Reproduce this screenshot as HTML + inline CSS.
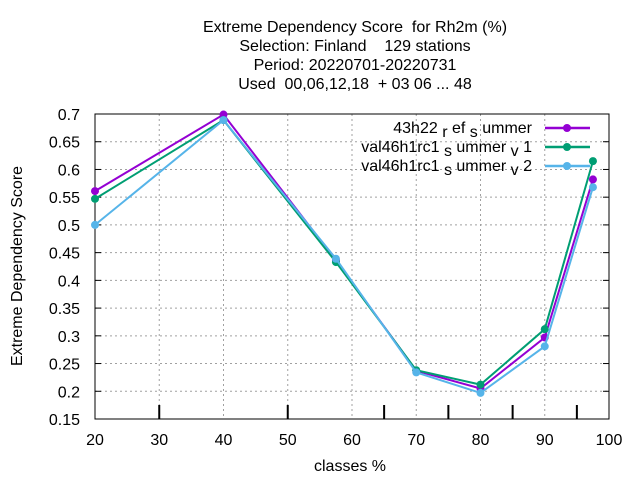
<!DOCTYPE html>
<html><head><meta charset="utf-8"><style>
body{margin:0;background:#fff}
svg{font-family:"Liberation Sans",sans-serif;font-size:16px}
</style></head><body>
<svg id="chart" width="640" height="480" viewBox="0 0 640 480" xmlns="http://www.w3.org/2000/svg">
<g text-anchor="middle" font-size="16">
<text x="355" y="32" xml:space="preserve">Extreme Dependency Score  for Rh2m (%)</text>
<text x="355" y="51" xml:space="preserve">Selection: Finland    129 stations</text>
<text x="355" y="70">Period: 20220701-20220731</text>
<text x="355" y="89" xml:space="preserve">Used  00,06,12,18  + 03 06 ... 48</text>
</g>
<g id="grid"></g>
<g id="axes"></g>
<g id="series"></g>
<g id="legend"></g>
<text transform="translate(22,266) rotate(-90)" text-anchor="middle">Extreme Dependency Score</text>
<text x="350" y="471" text-anchor="middle">classes %</text>
</svg>
<script>
const categories=[20,40,57.5,70,80,90,97.5];
const refSummer=[0.561,0.699,0.436,0.237,0.205,0.297,0.582];
const v1Summer=[0.547,0.689,0.433,0.238,0.212,0.312,0.615];
const v2Summer=[0.500,0.689,0.439,0.234,0.197,0.281,0.568];
const xTicks=[20,30,40,50,60,70,80,90,100];
const yTicks=[0.15,0.2,0.25,0.3,0.35,0.4,0.45,0.5,0.55,0.6,0.65,0.7];
const bottomTicks=[30,50,65,75,85,95];
const colors=["#9400d3","#009e73","#56b4e9"];
const L=95,R=609,T=114,B=419;
const xs=v=>L+(v-20)/80*(R-L);
const ys=v=>B-(v-0.15)/0.55*(B-T);
const NS="http://www.w3.org/2000/svg";
function mk(tag,attrs,parent){const e=document.createElementNS(NS,tag);for(const k in attrs)e.setAttribute(k,attrs[k]);parent.appendChild(e);return e;}
const grid=document.getElementById('grid'),axes=document.getElementById('axes'),ser=document.getElementById('series'),leg=document.getElementById('legend');
xTicks.forEach(t=>{const x=xs(t);
 if(t>20&&t<100){const g=mk('line',{x1:x,x2:x,y1:T,y2:B,stroke:'#a0a0a0','stroke-dasharray':'2,3','stroke-width':1},grid);}
 const tx=mk('text',{x:x,y:B+26,'text-anchor':'middle'},axes);tx.textContent=t;
 
 
});
yTicks.forEach(t=>{const y=ys(t);
 if(t>0.15&&t<0.7){const g=mk('line',{x1:L,x2:R,y1:y,y2:y,stroke:'#a0a0a0','stroke-dasharray':'2,3','stroke-width':1},grid);}
 mk('line',{x1:L,x2:L+6,y1:y,y2:y,stroke:'#000'},axes);
 mk('line',{x1:R-6,x2:R,y1:y,y2:y,stroke:'#000'},axes);
 const tx=mk('text',{x:L-15,y:y+6,'text-anchor':'end'},axes);tx.textContent=String(t);
 
 
});
bottomTicks.forEach(t=>{const m=mk('line',{x1:xs(t),x2:xs(t),y1:B,y2:B-14,stroke:'#000','stroke-width':2},axes);
 
 });
const fr=mk('rect',{x:L,y:T,width:R-L,height:B-T,fill:'none',stroke:'#000','stroke-width':1},axes);


[refSummer,v1Summer,v2Summer].forEach((vals,i)=>{
 const g=mk('g',{},ser);
 
 
 const pts=vals.map((v,j)=>xs(categories[j])+','+ys(v)).join(' ');
 const pl=mk('polyline',{points:pts,fill:'none',stroke:colors[i],'stroke-width':2},g);
 
 
 vals.forEach((v,j)=>{const c=mk('circle',{cx:xs(categories[j]),cy:ys(v),r:4,fill:colors[i]},g);
  
  });
});
const legendParts=[['43h22 ','r','ef','s','ummer'],['val46h1rc1 ','s','ummer','v','1'],['val46h1rc1 ','s','ummer','v','2']];
legendParts.forEach((p,i)=>{const y=128+i*19;
 const e=mk('g',{},leg);
 
 
 const t=mk('text',{x:532,y:y+5,'text-anchor':'end'},e);
 const parts=[[p[0],0],[p[1],4],[p[2],-4],[p[3],4],[p[4],-4]];
 parts.forEach(([s,dy],k)=>{const ts=mk('tspan',{dy:dy},t);ts.textContent=(k>0&&k<4?s+' ':s);});
 mk('line',{x1:545,x2:590,y1:y,y2:y,stroke:colors[i],'stroke-width':2.5},e);
 mk('circle',{cx:567,cy:y,r:4,fill:colors[i]},e);
});
</script>
</body></html>
